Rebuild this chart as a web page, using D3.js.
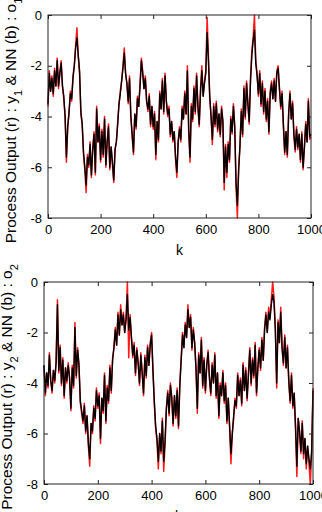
<!DOCTYPE html>
<html>
<head>
  <meta charset="utf-8">
  <title>Process output vs NN output</title>
  <script src="https://d3js.org/d3.v7.min.js"></script>
  <style>
    body { margin: 0; background: #fff; }
    svg { display: block; font-family: "Liberation Sans", Arial, sans-serif; }
  </style>
</head>
<body>

<div id="chart"></div>

<script>
// sample step along k (k = 0, 5, 10, ... 1000)
const stepK = 5;

// panel 1: process output y1 (red) and NN output o1 (black)
const y1 = [
  -3.6, -2.2, -3.0, -2.4, -3.2, -2.1, -2.8, -1.7, -2.9, -2.3,
  -1.8, -2.8, -3.3, -4.0, -5.8, -4.4, -3.9, -3.0, -3.4, -2.4,
  -2.0, -1.2, -0.5, -1.6, -2.3, -3.9, -4.3, -5.5, -6.1, -7.0,
  -5.5, -6.0, -5.0, -6.4, -5.3, -4.6, -6.3, -3.6, -5.0, -4.3,
  -5.8, -4.5, -5.6, -4.0, -6.0, -5.0, -4.3, -6.1, -5.2, -5.9,
  -6.6, -5.3, -5.0, -4.2, -3.5, -3.0, -2.6, -2.0, -1.3, -2.3,
  -2.7, -3.5, -2.4, -4.0, -4.8, -5.5, -3.9, -4.5, -3.2, -3.6,
  -2.7, -1.7, -2.2, -2.9, -2.4, -3.4, -3.8, -3.1, -4.4, -3.6,
  -4.5, -3.8, -5.7, -4.2, -5.0, -3.0, -3.7, -2.5, -3.9, -2.3,
  -3.4, -4.0, -3.6, -4.8, -4.2, -5.0, -4.6, -5.7, -6.4, -5.0,
  -4.4, -5.0, -3.6, -4.1, -3.0, -3.9, -2.0, -4.6, -5.8, -3.5,
  -4.2, -2.8, -3.9, -2.3, -3.6, -4.4, -2.9, -2.0, -3.2, -2.6,
  -2.2, -0.1, -1.6, -3.3, -4.0, -5.1, -3.5, -4.4, -3.4, -4.6,
  -3.9, -4.8, -3.6, -4.2, -6.9, -5.1, -6.4, -5.0, -5.8, -4.0,
  -4.7, -3.5, -4.4, -6.8, -8.0, -6.0, -5.2, -3.7, -4.8, -2.8,
  -4.1, -2.6, -3.5, -4.3, -2.5, -1.4, -0.9, 0.0, -1.8, -2.3,
  -3.2, -2.2, -3.6, -2.6, -3.9, -2.9, -4.2, -3.3, -4.7, -3.0,
  -2.6, -3.3, -2.5, -3.4, -2.2, -2.0, -2.9, -3.7, -3.0, -4.4,
  -5.5, -4.6, -5.6, -3.9, -3.0, -4.1, -3.4, -4.8, -5.4, -4.4,
  -5.3, -4.7, -5.8, -4.6, -6.1, -5.2, -4.2, -5.0, -3.3, -4.9,
  -4.8
];
const o1 = [
  -3.5, -2.3, -3.0, -2.5, -3.1, -2.2, -2.8, -1.8, -2.8, -2.3,
  -1.9, -2.8, -3.2, -4.0, -5.6, -4.4, -3.8, -3.1, -3.3, -2.5,
  -2.0, -1.3, -0.9, -1.6, -2.2, -3.8, -4.3, -5.4, -6.0, -6.7,
  -5.6, -5.9, -5.1, -6.3, -5.3, -4.7, -6.2, -3.7, -5.0, -4.4,
  -5.7, -4.6, -5.5, -4.1, -5.9, -5.0, -4.4, -6.0, -5.2, -5.8,
  -6.5, -5.3, -5.0, -4.3, -3.5, -3.1, -2.6, -2.1, -1.5, -2.3,
  -2.7, -3.4, -2.5, -4.0, -4.7, -5.4, -3.9, -4.4, -3.3, -3.6,
  -2.8, -1.8, -2.3, -2.9, -2.5, -3.4, -3.7, -3.2, -4.3, -3.6,
  -4.4, -3.9, -5.5, -4.2, -4.9, -3.1, -3.7, -2.6, -3.8, -2.4,
  -3.4, -3.9, -3.7, -4.7, -4.2, -4.9, -4.6, -5.6, -6.2, -5.0,
  -4.5, -4.9, -3.7, -4.1, -3.1, -3.9, -2.2, -4.5, -5.6, -3.6,
  -4.1, -2.9, -3.8, -2.4, -3.6, -4.3, -3.0, -2.2, -3.2, -2.7,
  -2.3, -0.7, -1.8, -3.2, -4.0, -4.9, -3.6, -4.3, -3.5, -4.5,
  -3.9, -4.7, -3.7, -4.2, -6.6, -5.2, -6.2, -5.1, -5.7, -4.1,
  -4.6, -3.6, -4.4, -6.6, -7.5, -6.1, -5.1, -3.8, -4.7, -2.9,
  -4.0, -2.7, -3.5, -4.2, -2.6, -1.6, -1.0, -0.6, -1.9, -2.4,
  -3.1, -2.3, -3.5, -2.7, -3.8, -3.0, -4.1, -3.4, -4.6, -3.1,
  -2.7, -3.3, -2.6, -3.4, -2.3, -2.1, -2.9, -3.6, -3.1, -4.3,
  -5.4, -4.6, -5.5, -3.9, -3.1, -4.1, -3.5, -4.7, -5.3, -4.5,
  -5.2, -4.7, -5.7, -4.7, -6.0, -5.2, -4.3, -5.0, -3.4, -4.8,
  -4.7
];

// panel 2: process output y2 (red) and NN output o2 (black)
const y2 = [
  -3.3, -4.5, -3.6, -4.2, -2.8, -3.9, -4.4, -3.5, -4.0, -3.1,
  -0.7, -3.6, -2.5, -4.1, -3.0, -4.6, -3.4, -4.0, -3.2, -3.8,
  -5.1, -3.3, -4.2, -1.6, -3.8, -2.6, -3.3, -4.8, -5.2, -5.6,
  -4.8, -6.0, -5.3, -6.5, -7.3, -5.6, -6.0, -4.9, -5.5, -4.2,
  -5.0, -4.4, -6.4, -4.6, -5.2, -3.6, -5.6, -4.1, -4.8, -3.3,
  -4.4, -3.0, -2.6, -1.8, -2.5, -1.2, -2.1, -0.9, -1.7, -1.2,
  -2.0, -1.4, 0.0, -3.0, -1.3, -2.2, -3.0, -2.4, -3.7, -2.6,
  -3.2, -4.1, -2.8, -3.6, -4.5, -2.9, -3.8, -2.5, -3.3, -2.4,
  -2.0, -3.5, -4.8, -5.8, -6.3, -7.4, -6.0, -6.8, -5.4, -7.5,
  -6.4, -5.0, -4.3, -5.3, -4.0, -4.6, -5.7, -4.5, -5.4, -4.2,
  -5.8, -4.0, -3.0, -2.0, -2.6, -1.6, -2.2, -0.9, -1.8, -1.3,
  -2.7, -1.8, -2.4, -3.4, -5.2, -2.8, -3.6, -2.2, -4.2, -3.0,
  -4.4, -3.3, -2.7, -3.8, -4.5, -3.2, -4.0, -2.8, -4.6, -3.6,
  -5.4, -4.0, -4.5, -3.5, -4.8, -4.0, -5.6, -4.6, -5.8, -7.2,
  -6.0, -5.4, -4.6, -5.0, -3.6, -4.5, -3.8, -4.9, -3.2, -4.3,
  -3.4, -4.7, -3.6, -2.6, -4.1, -3.0, -3.8, -2.4, -4.5, -3.4,
  -2.6, -3.5, -2.2, -3.1, -1.8, -1.2, -2.0, -1.0, -1.4, -0.7,
  0.0, -0.6, -1.8, -4.2, -1.5, -2.4, -1.0, -2.6, -3.3, -2.1,
  -3.4, -2.5, -4.0, -4.8, -3.6, -5.0, -4.4, -5.8, -7.7, -5.4,
  -6.0, -6.8, -5.5, -7.0, -6.2, -7.4, -6.5, -7.2, -8.0, -6.8,
  -4.2
];
const o2 = [
  -3.3, -4.4, -3.6, -4.1, -2.9, -3.9, -4.3, -3.5, -3.9, -3.2,
  -0.9, -3.5, -2.6, -4.0, -3.1, -4.5, -3.4, -3.9, -3.3, -3.8,
  -5.0, -3.4, -4.1, -1.8, -3.7, -2.7, -3.3, -4.7, -5.1, -5.5,
  -4.9, -5.9, -5.3, -6.4, -7.0, -5.6, -5.9, -5.0, -5.4, -4.3,
  -4.9, -4.5, -6.2, -4.6, -5.1, -3.7, -5.5, -4.2, -4.7, -3.4,
  -4.3, -3.1, -2.6, -1.9, -2.5, -1.3, -2.1, -1.1, -1.7, -1.3,
  -2.0, -1.5, -0.5, -1.9, -1.4, -2.2, -2.9, -2.5, -3.6, -2.7,
  -3.2, -4.0, -2.9, -3.6, -4.4, -3.0, -3.7, -2.6, -3.3, -2.5,
  -2.1, -3.5, -4.7, -5.7, -6.2, -7.1, -6.0, -6.7, -5.5, -7.1,
  -6.3, -5.0, -4.4, -5.2, -4.1, -4.6, -5.6, -4.5, -5.3, -4.3,
  -5.7, -4.1, -3.1, -2.1, -2.6, -1.7, -2.2, -1.1, -1.8, -1.4,
  -2.6, -1.9, -2.4, -3.4, -5.0, -2.9, -3.6, -2.3, -4.1, -3.1,
  -4.3, -3.3, -2.8, -3.8, -4.4, -3.3, -4.0, -2.9, -4.5, -3.6,
  -5.3, -4.1, -4.5, -3.6, -4.7, -4.1, -5.5, -4.6, -5.7, -6.8,
  -6.0, -5.3, -4.7, -4.9, -3.7, -4.5, -3.9, -4.8, -3.3, -4.3,
  -3.5, -4.6, -3.7, -2.7, -4.0, -3.1, -3.7, -2.5, -4.4, -3.4,
  -2.7, -3.4, -2.3, -3.1, -1.9, -1.3, -2.0, -1.2, -1.5, -0.9,
  -0.5, -0.8, -1.9, -4.0, -1.6, -2.4, -1.2, -2.6, -3.2, -2.2,
  -3.4, -2.6, -3.9, -4.7, -3.7, -4.9, -4.4, -5.7, -7.3, -5.4,
  -5.9, -6.7, -5.6, -6.8, -6.2, -7.2, -6.5, -7.0, -7.4, -6.7,
  -4.3
];

const xTicks = [0, 200, 400, 600, 800, 1000];
const yTicks = [0, -2, -4, -6, -8];

const W = 322, H = 512;
const svg = d3.select("#chart").append("svg")
  .attr("width", W)
  .attr("height", H);

const panels = [
  { left: 48, right: 311, top: 15, bottom: 218, ref: y1, nn: o1, sub: "1", labelX: 16 },
  { left: 44, right: 313, top: 282, bottom: 484, ref: y2, nn: o2, sub: "2", labelX: 12 }
];

// plain hyphen minus like the original plot
const fmt = d => String(d);

panels.forEach(p => {
  const g = svg.append("g");

  const x = d3.scaleLinear().domain([0, 1000]).range([p.left, p.right]);
  const y = d3.scaleLinear().domain([-8, 0]).range([p.bottom, p.top]);

  const line = d3.line()
    .x((d, i) => x(i * stepK))
    .y(d => y(d));

  g.append("path")
    .datum(p.ref)
    .attr("fill", "none")
    .attr("stroke", "#ff1a1a")
    .attr("stroke-width", 1.5)
    .attr("stroke-linejoin", "round")
    .attr("d", line);

  g.append("path")
    .datum(p.nn)
    .attr("fill", "none")
    .attr("stroke", "#000")
    .attr("stroke-width", 1.4)
    .attr("stroke-linejoin", "round")
    .attr("d", line);

  // axes with inward ticks, mirrored on top and right
  g.append("g")
    .attr("transform", `translate(0,${p.bottom})`)
    .call(d3.axisBottom(x).tickValues(xTicks).tickFormat(fmt).tickSizeInner(-4).tickSizeOuter(0).tickPadding(7));
  g.append("g")
    .attr("transform", `translate(${p.left},0)`)
    .call(d3.axisLeft(y).tickValues(yTicks).tickFormat(fmt).tickSizeInner(-4).tickSizeOuter(0).tickPadding(6));
  g.append("g")
    .attr("transform", `translate(0,${p.top})`)
    .call(d3.axisTop(x).tickValues(xTicks).tickSizeInner(-4).tickSizeOuter(0).tickFormat(""));
  g.append("g")
    .attr("transform", `translate(${p.right},0)`)
    .call(d3.axisRight(y).tickValues(yTicks).tickSizeInner(-4).tickSizeOuter(0).tickFormat(""));

  g.selectAll(".domain").remove();
  g.selectAll(".tick line").attr("stroke", "#222");
  g.selectAll(".tick text")
    .attr("font-family", "'Liberation Sans', Arial, sans-serif")
    .attr("font-size", 13)
    .attr("fill", "#000");

  g.append("rect")
    .attr("x", p.left)
    .attr("y", p.top)
    .attr("width", p.right - p.left)
    .attr("height", p.bottom - p.top)
    .attr("fill", "none")
    .attr("stroke", "#222")
    .attr("stroke-width", 1);

  // x axis title
  g.append("text")
    .attr("x", (p.left + p.right) / 2)
    .attr("y", p.bottom + 37)
    .attr("text-anchor", "middle")
    .attr("font-size", 14)
    .text("k");

  // y axis title with subscripts
  const t = g.append("text")
    .attr("transform", `translate(${p.labelX},${(p.top + p.bottom) / 2 + 4}) rotate(-90)`)
    .attr("text-anchor", "middle")
    .attr("font-size", 15.5);
  t.append("tspan").text("Process Output (r) : y");
  t.append("tspan").attr("baseline-shift", "sub").attr("font-size", 11).text(p.sub);
  t.append("tspan").text(" & NN (b) : o");
  t.append("tspan").attr("baseline-shift", "sub").attr("font-size", 11).text(p.sub);
});
</script>

</body>
</html>
